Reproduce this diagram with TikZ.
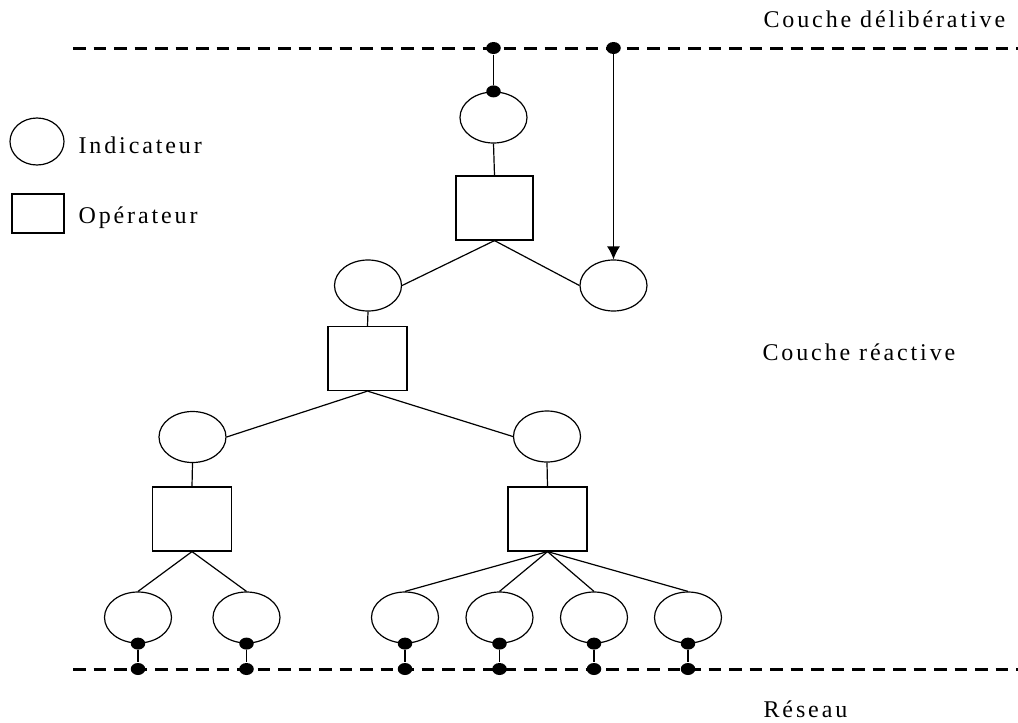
\documentclass[tikz,border=0pt]{standalone}
\usepackage{fontspec}
\setmainfont{Liberation Serif}[LetterSpace=12]
\usetikzlibrary{shapes.geometric,arrows.meta}
\begin{document}
\begin{tikzpicture}[x=1pt,y=-1pt,
  line width=1.2pt,
  ind/.style={draw,ellipse,inner sep=0pt,minimum width=67pt,minimum height=51pt},
  op/.style={draw,rectangle,inner sep=0pt,minimum width=79pt,minimum height=64pt},
  dot/.style={fill,ellipse,inner sep=0pt,minimum width=14.5pt,minimum height=12pt},
  layer/.style={dash pattern=on 12.5pt off 8pt,line width=3pt},
  lbl/.style={anchor=base west,inner sep=0pt,font=\fontsize{24}{28}\selectfont}]
\useasboundingbox (0,0) rectangle (1018,723);

% layer boundaries
\coordinate (tl) at (73,48);  \coordinate (tr) at (1018,48);
\coordinate (bl) at (73,669); \coordinate (br) at (1018,669);
\draw[layer] (tl) -- (tr);
\draw[layer] (bl) -- (br);

% layer names
\node[lbl] (delib) at (763,27)  {Couche délibérative};
\node[lbl] (react) at (762,360) {Couche réactive};
\node[lbl] (net)   at (763,717) {Réseau};

% legend
\node[ind,minimum width=54pt,minimum height=47pt] (legI) at (37,141.5) {};
\node[op,minimum width=52pt,minimum height=39pt] (legO) at (38,213.5) {};
\node[lbl] (legIt) at (78,153) {Indicateur};
\node[lbl] (legOt) at (78,223) {Opérateur};

% tree
\node[ind] (i1)  at (493.5,117.5) {};
\node[op,minimum width=77pt] (o1) at (494.5,208) {};
\node[ind] (i2L) at (368,285.5) {};
\node[ind] (i2R) at (613.5,285.5) {};
\node[op]  (o2)  at (367.5,358.5) {};
\node[ind] (i3L) at (192.5,437) {};
\node[ind] (i3R) at (547,436.5) {};
\node[op]  (o3L) at (192,519) {};
\node[op]  (o3R) at (547.5,519) {};
\foreach \n/\x in {b1/138,b2/246.5,b3/405,b4/499.5,b5/594,b6/688}
  \node[ind] (\n) at (\x,617.5) {};

\draw (i1.south) -- (o1.north);
\draw (o1.south) -- (i2L.east);
\draw (o1.south) -- (i2R.west);
\draw (i2L.south) -- (o2.north);
\draw (o2.south) -- (i3L.east);
\draw (o2.south) -- (i3R.west);
\draw (i3L.south) -- (o3L.north);
\draw (i3R.south) -- (o3R.north);
\foreach \n in {b1,b2} \draw (o3L.south) -- (\n.north);
\foreach \n in {b3,b4,b5,b6} \draw (o3R.south) -- (\n.north);

% links to the deliberative layer
\node[dot] (d0) at (493.5,48) {};
\node[dot] (d0i) at (i1.north) {};
\draw (d0) -- (d0i);
\node[dot] (d1) at (613.5,48) {};
\draw[-{Latex[length=13pt,width=13pt]}] (d1.center) -- (i2R.north);

% links to the network
\foreach \n in {b1,b2,b3,b4,b5,b6} {
  \node[dot] (\n-s) at (\n.south) {};
  \node[dot] (\n-n) at (\n.south |- bl) {};
  \draw (\n-s) -- (\n-n);
}
\end{tikzpicture}
\end{document}
